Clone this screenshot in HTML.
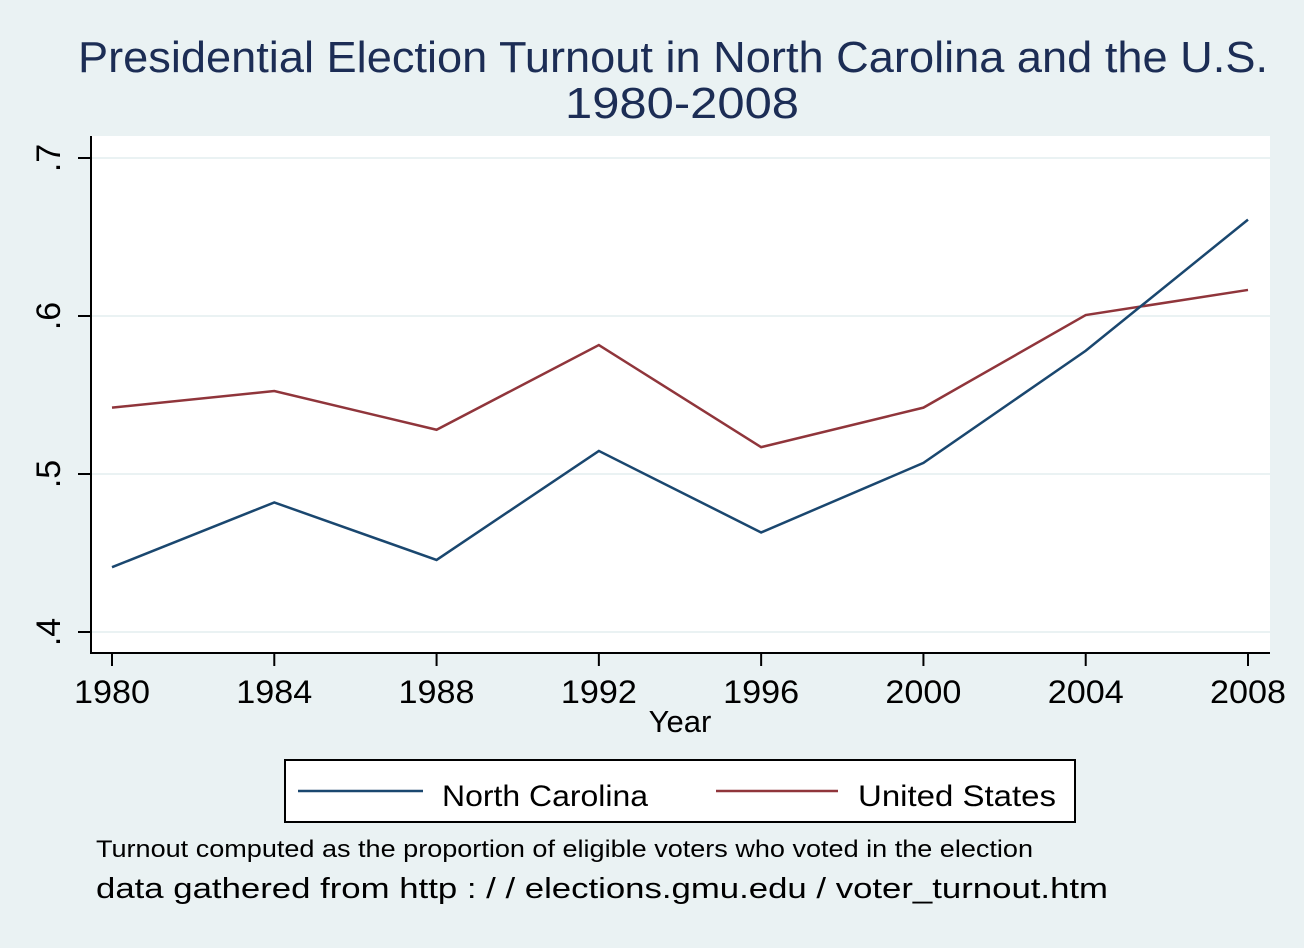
<!DOCTYPE html>
<html><head><meta charset="utf-8"><style>
html,body{margin:0;padding:0;background:#eaf2f3;}
svg{display:block;font-family:"Liberation Sans",sans-serif;}
</style></head><body>
<svg id="chart" width="1304" height="948" viewBox="0 0 1304 948" xmlns="http://www.w3.org/2000/svg">
<rect width="1304" height="948" fill="#eaf2f3"/>
<text x="673" y="72" font-size="44" fill="#1c2d55" text-anchor="middle" textLength="1190" lengthAdjust="spacingAndGlyphs">Presidential Election Turnout in North Carolina and the U.S.</text>
<text x="682" y="118" font-size="44" fill="#1c2d55" text-anchor="middle" textLength="234" lengthAdjust="spacingAndGlyphs">1980-2008</text>
<rect x="91" y="136" width="1179" height="517" fill="#fff"/>
<g id="grid"></g>
<g id="lines"></g>
<line x1="91" y1="136" x2="91" y2="654" stroke="#000" stroke-width="2"/>
<line x1="90" y1="653" x2="1270" y2="653" stroke="#000" stroke-width="2"/>
<g id="axes"></g>
<text x="680" y="732" font-size="31" text-anchor="middle" fill="#000">Year</text>
<g>
<rect x="285" y="760" width="790" height="62" fill="#fff" stroke="#000" stroke-width="2"/>
<line x1="298" y1="791" x2="423" y2="791" stroke="#1a476f" stroke-width="2.5"/>
<text x="442" y="806" font-size="30" fill="#000" textLength="206" lengthAdjust="spacingAndGlyphs">North Carolina</text>
<line x1="716" y1="791" x2="838" y2="791" stroke="#90353b" stroke-width="2.5"/>
<text x="858" y="806" font-size="30" fill="#000" textLength="198" lengthAdjust="spacingAndGlyphs">United States</text>
</g>
<text x="96" y="857" font-size="24" fill="#000" textLength="937" lengthAdjust="spacingAndGlyphs">Turnout computed as the proportion of eligible voters who voted in the election</text>
<text x="96" y="898" font-size="29" fill="#000" textLength="1012" lengthAdjust="spacingAndGlyphs">data gathered from http : / / elections.gmu.edu / voter_turnout.htm</text>
</svg>
<script>
const years = [1980,1984,1988,1992,1996,2000,2004,2008];
const ncTurnout = [0.441,0.482,0.4456,0.5146,0.463,0.507,0.578,0.661];
const usTurnout = [0.542,0.5525,0.528,0.5816,0.517,0.542,0.6006,0.6165];
const yTicks = [0.4,0.5,0.6,0.7];
const yTickLabels = [".4",".5",".6",".7"];

const NS="http://www.w3.org/2000/svg";
function xS(v){return 112+(v-1980)/28*1136;}
function yS(v){return 632-(v-0.4)/0.3*474;}
function mk(tag,attrs,parent){const e=document.createElementNS(NS,tag);for(const k in attrs)e.setAttribute(k,attrs[k]);parent.appendChild(e);return e;}
const grid=document.getElementById('grid'),axes=document.getElementById('axes'),lines=document.getElementById('lines');
yTicks.forEach((t,i)=>{
  const g=mk('line',{x1:92,x2:1270,y1:yS(t),y2:yS(t),stroke:'#eaf2f3','stroke-width':2},grid);
  
  
  const tk=mk('line',{x1:78,x2:91,y1:yS(t),y2:yS(t),stroke:'#000','stroke-width':2},axes);
  
  
  const y=yS(t);
  const lb=mk('text',{x:0,y:0,'font-size':34,fill:'#000','text-anchor':'middle',transform:`translate(60,${y}) rotate(-90)`},axes);
  lb.textContent=yTickLabels[i];
  
  
});
years.forEach(yr=>{
  const tk=mk('line',{x1:xS(yr),x2:xS(yr),y1:653,y2:666,stroke:'#000','stroke-width':2},axes);
  
  
  const lb=mk('text',{x:xS(yr),y:703,'font-size':32,fill:'#000','text-anchor':'middle',textLength:76,lengthAdjust:'spacingAndGlyphs'},axes);
  lb.textContent=String(yr);
  
  
});
function pts(arr){return arr.map((v,i)=>xS(years[i])+','+yS(v)).join(' ');}
const us=mk('polyline',{points:pts(usTurnout),fill:'none',stroke:'#90353b','stroke-width':2.5},lines);


const nc=mk('polyline',{points:pts(ncTurnout),fill:'none',stroke:'#1a476f','stroke-width':2.5},lines);


</script>
</body></html>
